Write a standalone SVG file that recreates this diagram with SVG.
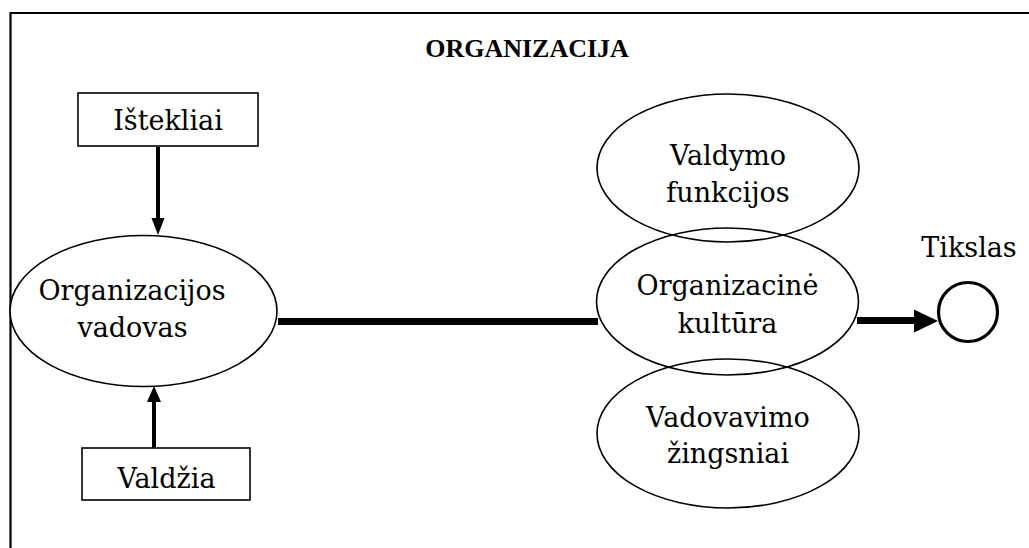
<svg xmlns="http://www.w3.org/2000/svg" width="1029" height="548" viewBox="0 0 1029 548">
<style>
text{fill:#000;text-anchor:middle}
.t{font-family:"DejaVu Serif",serif;font-size:27px}
.b{font-family:"Liberation Serif",serif;font-size:26px;font-weight:bold}
.s{fill:#fff;stroke:#000;stroke-width:1.6}
.e{fill:none;stroke:#000;stroke-width:1.6}
</style>
<rect width="1029" height="548" fill="#fff"/>
<g id="frame">
<path d="M10.5 548 V13 H1029" fill="none" stroke="#000" stroke-width="2.2"/>
<text class="b" x="527" y="57">ORGANIZACIJA</text>
</g>
<g id="connectors">
<line x1="158" y1="147" x2="158" y2="220" stroke="#000" stroke-width="4"/>
<polygon points="151.5,218 164.5,218 158,235"/>
<line x1="154" y1="448" x2="154" y2="400" stroke="#000" stroke-width="4"/>
<polygon points="147,402 161,402 154,386"/>
<line x1="278" y1="321.5" x2="598" y2="321.5" stroke="#000" stroke-width="7"/>
<line x1="857" y1="320.5" x2="916" y2="320.5" stroke="#000" stroke-width="7"/>
<polygon points="914,309.5 914,332.5 938,321"/>
</g>
<g id="istekliai">
<rect class="s" x="78" y="93" width="180" height="53"/>
<text class="t" x="168" y="130">Ištekliai</text>
</g>
<g id="valdzia">
<rect class="s" x="82" y="448" width="168" height="52"/>
<text class="t" x="166.5" y="488">Valdžia</text>
</g>
<g id="vadovas">
<ellipse class="s" cx="143.5" cy="311" rx="133.5" ry="75.5"/>
<text class="t" x="132" y="300">Organizacijos</text>
<text class="t" x="132.5" y="337">vadovas</text>
</g>
<g id="valdymo">
<ellipse class="e" cx="728" cy="168" rx="131" ry="74"/>
<text class="t" x="728" y="165">Valdymo</text>
<text class="t" x="728" y="202">funkcijos</text>
</g>
<g id="kultura">
<ellipse class="e" cx="727.5" cy="301.5" rx="131" ry="73.5"/>
<text class="t" x="727.5" y="295">Organizacinė</text>
<text class="t" x="727.5" y="333">kultūra</text>
</g>
<g id="zingsniai">
<ellipse class="e" cx="728" cy="433.5" rx="131" ry="74.5"/>
<text class="t" x="728" y="427">Vadovavimo</text>
<text class="t" x="728" y="463">žingsniai</text>
</g>
<g id="tikslas">
<circle cx="968" cy="312" r="29.5" fill="#fff" stroke="#000" stroke-width="3.2"/>
<text class="t" x="969" y="257">Tikslas</text>
</g>
</svg>
